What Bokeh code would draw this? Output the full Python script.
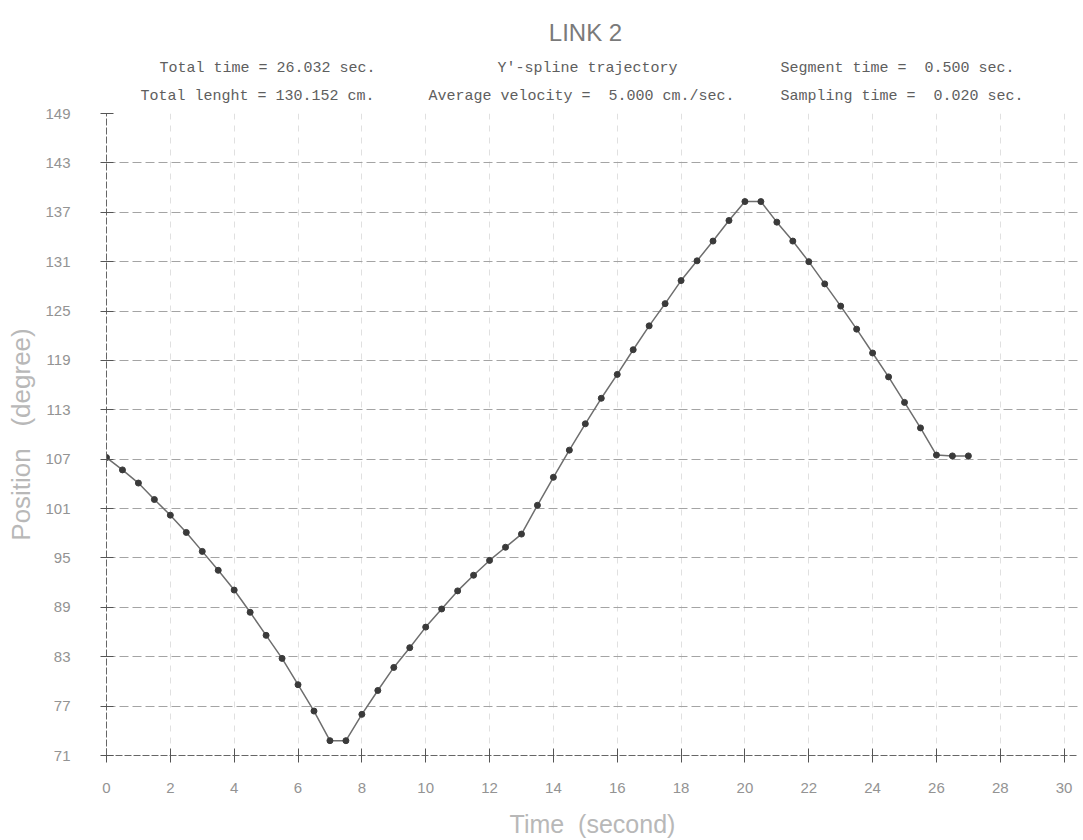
from bokeh.plotting import figure
from bokeh.models import Range1d, FixedTicker
from bokeh.layouts import column
from bokeh.core.properties import value
from bokeh.embed import file_html
from bokeh.resources import INLINE

# ---- data ----
time_s = [0.0, 0.5, 1.0, 1.5, 2.0, 2.5, 3.0, 3.5, 4.0, 4.5, 5.0, 5.5, 6.0, 6.5,
          7.0, 7.5, 8.0, 8.5, 9.0, 9.5, 10.0, 10.5, 11.0, 11.5, 12.0, 12.5, 13.0,
          13.5, 14.0, 14.5, 15.0, 15.5, 16.0, 16.5, 17.0, 17.5, 18.0, 18.5, 19.0,
          19.5, 20.0, 20.5, 21.0, 21.5, 22.0, 22.5, 23.0, 23.5, 24.0, 24.5, 25.0,
          25.5, 26.0, 26.5, 27.0]
position_deg = [107.2, 105.7, 104.1, 102.1, 100.2, 98.1, 95.8, 93.5, 91.1, 88.4,
                85.6, 82.8, 79.6, 76.4, 72.8, 72.8, 76.0, 78.9, 81.7, 84.1, 86.6,
                88.8, 91.0, 92.9, 94.7, 96.3, 97.9, 101.4, 104.8, 108.1, 111.3,
                114.4, 117.3, 120.3, 123.2, 125.9, 128.7, 131.1, 133.5, 136.0,
                138.3, 138.3, 135.8, 133.5, 131.0, 128.3, 125.6, 122.8, 119.9,
                117.0, 113.9, 110.8, 107.5, 107.4, 107.4]
x_ticks = [0, 2, 4, 6, 8, 10, 12, 14, 16, 18, 20, 22, 24, 26, 28, 30]
y_ticks = [71, 77, 83, 89, 95, 101, 107, 113, 119, 125, 131, 137, 143, 149]

NB = "\u00a0"
title_text = "LINK 2"
header_row1 = ["Total time = 26.032 sec.", "Y'-spline trajectory",
               "Segment time =" + NB + NB + "0.500 sec."]
header_row2 = ["Total lenght = 130.152 cm.",
               "Average velocity =" + NB + NB + "5.000 cm./sec.",
               "Sampling time =" + NB + NB + "0.020 sec."]
x_label = "Time" + NB + NB + "(second)"
y_label = "Position" + NB + NB + NB + "(degree)"

W, H = 1083, 840
HEAD_H = 105
FL, FR = 106, 1078

# ---- header (title + info texts); x data units equal canvas pixels ----
hd = figure(width=W, height=HEAD_H, output_backend="svg", toolbar_location=None,
            title=None, x_range=Range1d(FL, FR), y_range=Range1d(HEAD_H, 0),
            x_axis_type=None, y_axis_type=None,
            min_border_left=FL, min_border_right=W - FR,
            min_border_top=0, min_border_bottom=0)
hd.outline_line_color = None
hd.xgrid.visible = False
hd.ygrid.visible = False

hd.text(x=[585], y=[32], text=[title_text], text_font=value("Liberation Sans"),
        text_font_size="24px", text_color="#7a7a7a", text_align="center",
        text_baseline="alphabetic")
hd.text(x=[159, 497, 780], y=[68, 68, 68], text=header_row1,
        text_font=value("Liberation Mono"), text_font_size="15px",
        text_color="#5e5e5e", text_align="left", text_baseline="alphabetic")
hd.text(x=[140, 428, 780], y=[96, 96, 96], text=header_row2,
        text_font=value("Liberation Mono"), text_font_size="15px",
        text_color="#5e5e5e", text_align="left", text_baseline="alphabetic")

# ---- main plot ----
PH = H - HEAD_H
FT, FB = 113 - HEAD_H, 758 - HEAD_H
p = figure(width=W, height=PH, output_backend="svg", toolbar_location=None,
           title=None,
           x_range=Range1d(0, 30.45), y_range=Range1d(71, 149),
           min_border_left=FL, min_border_right=W - FR,
           min_border_top=FT, min_border_bottom=PH - FB)
p.outline_line_color = None

p.xaxis.ticker = FixedTicker(ticks=x_ticks)
p.yaxis.ticker = FixedTicker(ticks=y_ticks)
p.xaxis.minor_tick_line_color = None
p.yaxis.minor_tick_line_color = None

for ax in (p.xaxis[0], p.yaxis[0]):
    ax.axis_line_color = "#666666"
    ax.axis_line_dash = "7 2"
    ax.axis_line_width = 1
    ax.major_tick_line_color = "#555555"
    ax.major_tick_in = 7
    ax.major_tick_out = 7
    ax.major_label_text_font = "Liberation Sans"
    ax.major_label_text_color = "#939393"
    ax.major_label_text_font_size = "15px"
    ax.axis_label_text_font = "Liberation Sans"
    ax.axis_label_text_font_style = "normal"
    ax.axis_label_text_color = "#b8b8b8"

p.xaxis.axis_label_text_font_size = "25px"
p.yaxis.axis_label_text_font_size = "26px"
p.xaxis.major_label_standoff = 20
p.yaxis.major_label_standoff = 30
p.yaxis.major_tick_out = 6
p.xaxis.axis_label = x_label
p.yaxis.axis_label = y_label
p.xaxis.axis_label_standoff = 14
p.yaxis.axis_label_standoff = 6

p.ygrid.grid_line_color = "#a4a4a4"
p.ygrid.grid_line_dash = "9 4"
p.ygrid.grid_line_width = 1
p.xgrid.grid_line_color = "#e0e0e0"
p.xgrid.grid_line_dash = "6 6"
p.xgrid.grid_line_width = 1

p.line(time_s, position_deg, line_color="#6e6e6e", line_width=1.5)
p.scatter(time_s, position_deg, size=6, fill_color="#3a3a3a", line_color="#3a3a3a")

layout = column(hd, p, spacing=0)
open("out.html", "w").write(file_html(layout, INLINE))
